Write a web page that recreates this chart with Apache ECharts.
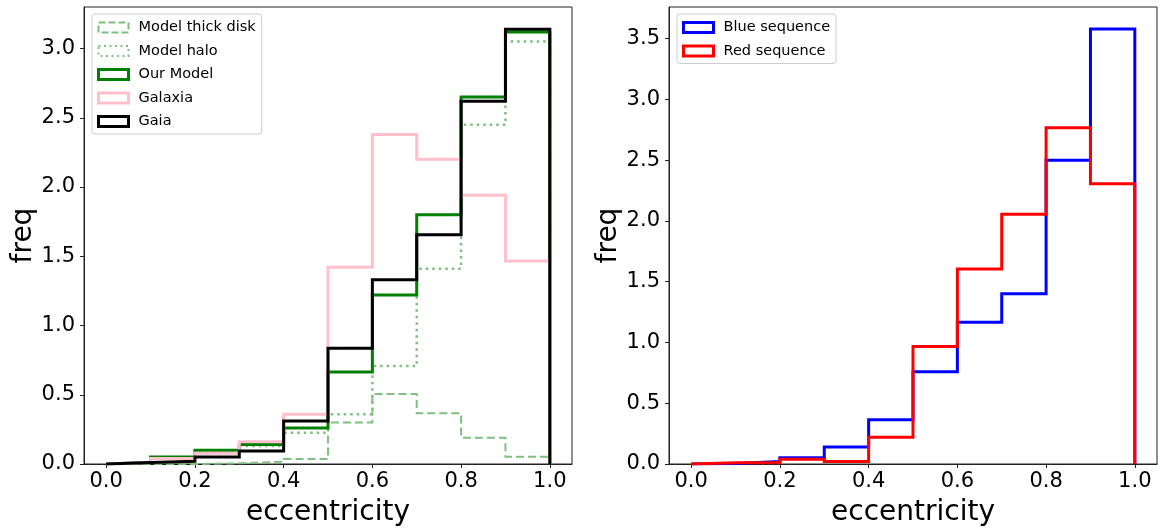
<!DOCTYPE html>
<html><head><meta charset="utf-8">
<script src="https://cdn.jsdelivr.net/npm/echarts@6/dist/echarts.min.js"></script>
<style>html,body{margin:0;padding:0;background:#fff}#c{width:1161px;height:532px}</style>
</head><body><div id="c"></div>
<script>
// bin edges of the eccentricity histograms
const binEdges = [0.0, 0.1, 0.2, 0.3, 0.4, 0.5, 0.6, 0.7, 0.8, 0.9, 1.0];
// left panel (density per bin)
const modelThickDisk = [0.0, 0.0, 0.005, 0.017, 0.036, 0.30, 0.505, 0.366, 0.19, 0.053];
const modelHalo      = [0.01, 0.045, 0.09, 0.13, 0.226, 0.36, 0.707, 1.41, 2.45, 3.05];
const ourModel       = [0.01, 0.05, 0.10, 0.14, 0.26, 0.665, 1.22, 1.80, 2.65, 3.12];
const galaxia        = [0.01, 0.04, 0.077, 0.16, 0.36, 1.42, 2.38, 2.20, 1.94, 1.465];
const gaia           = [0.01, 0.02, 0.05, 0.094, 0.31, 0.835, 1.33, 1.655, 2.62, 3.14];
// right panel
const blueSequence   = [0.005, 0.02, 0.052, 0.14, 0.364, 0.758, 1.167, 1.40, 2.50, 3.58];
const redSequence    = [0.01, 0.01, 0.04, 0.02, 0.22, 0.966, 1.605, 2.054, 2.766, 2.305];
// tick labels
const xTicks = [0.0, 0.2, 0.4, 0.6, 0.8, 1.0];
const yTicksLeft = [0.0, 0.5, 1.0, 1.5, 2.0, 2.5, 3.0];
const yTicksRight = [0.0, 0.5, 1.0, 1.5, 2.0, 2.5, 3.0, 3.5];

function stepOutline(vals) {
  const pts = [[binEdges[0], 0]];
  for (let i = 0; i < vals.length; i++) {
    pts.push([binEdges[i], vals[i]]);
    pts.push([binEdges[i + 1], vals[i]]);
  }
  pts.push([binEdges[binEdges.length - 1], 0]);
  return pts;
}

const FONT = 'DejaVu Sans';
const lgreen = '#7fbf7f';

function xAxisCfg(gi) {
  return {
    type: 'value', gridIndex: gi, min: -0.05, max: 1.05,
    name: 'eccentricity', nameLocation: 'middle', nameGap: 35,
    nameTextStyle: { fontFamily: FONT, fontSize: 28, color: '#000' },
    axisLine: { show: true, onZero: false, lineStyle: { color: '#222', width: 1 } },
    axisTick: { show: true, length: 4, customValues: xTicks, lineStyle: { color: '#222' } },
    axisLabel: { customValues: xTicks, formatter: v => v.toFixed(1), fontFamily: FONT, fontSize: 21, color: '#000', margin: 7 },
    splitLine: { show: false }
  };
}
function yAxisCfg(gi, max, ticks) {
  return {
    type: 'value', gridIndex: gi, min: 0, max: max,
    name: 'freq', nameLocation: 'middle', nameGap: 44,
    nameTextStyle: { fontFamily: FONT, fontSize: 28, color: '#000' },
    axisLine: { show: true, onZero: false, lineStyle: { color: '#222', width: 1 } },
    axisTick: { show: true, length: 4, customValues: ticks, lineStyle: { color: '#222' } },
    axisLabel: { customValues: ticks, formatter: v => v.toFixed(1), fontFamily: FONT, fontSize: 21, color: '#000', margin: 9 },
    splitLine: { show: false }
  };
}
function ser(name, vals, gi, color, width, dash) {
  return {
    name: name, type: 'line', xAxisIndex: gi, yAxisIndex: gi,
    data: stepOutline(vals), symbol: 'none', animation: false,
    itemStyle: { color: color },
    lineStyle: { color: color, width: width, type: dash || 'solid', cap: 'butt', join: 'miter' },
    emphasis: { disabled: true }
  };
}
function legItem(name, color, width, dash) {
  return { name: name, icon: 'rect',
    itemStyle: { color: 'rgba(255,255,255,0)', borderColor: color, borderWidth: width, borderType: dash || 'solid' } };
}
const legendCommon = {
  orient: 'vertical', backgroundColor: 'rgba(255,255,255,0.8)', borderColor: '#cccccc', borderWidth: 1,
  borderRadius: 3, padding: [6, 6, 5, 5], itemWidth: 30, itemHeight: 10, itemGap: 8.5,
  selectedMode: false,
  textStyle: { fontFamily: FONT, fontSize: 14.5, color: '#000', lineHeight: 14, padding: [0, 0, 0, 5] }
};

const chart = echarts.init(document.getElementById('c'), null, { renderer: 'canvas' });
chart.setOption({
  animation: false,
  backgroundColor: '#fff',
  grid: [
    { left: 84, top: 7, width: 488, height: 457, show: true, borderColor: '#222', borderWidth: 1, backgroundColor: 'transparent' },
    { left: 669, top: 7, width: 488, height: 457, show: true, borderColor: '#222', borderWidth: 1, backgroundColor: 'transparent' }
  ],
  xAxis: [xAxisCfg(0), xAxisCfg(1)],
  yAxis: [yAxisCfg(0, 3.3, yTicksLeft), yAxisCfg(1, 3.76, yTicksRight)],
  legend: [
    Object.assign({}, legendCommon, { left: 92, top: 14, data: [
      legItem('Model thick disk', lgreen, 2, [7, 3]),
      legItem('Model halo', lgreen, 2, [2, 3.5]),
      legItem('Our Model', '#008000', 3),
      legItem('Galaxia', '#ffc0cb', 3),
      legItem('Gaia', '#000000', 3)
    ] }),
    Object.assign({}, legendCommon, { left: 677, top: 14, data: [
      legItem('Blue sequence', '#0000ff', 3),
      legItem('Red sequence', '#ff0000', 3)
    ] })
  ],
  series: [
    ser('Model thick disk', modelThickDisk, 0, lgreen, 2, [8, 4]),
    ser('Model halo', modelHalo, 0, lgreen, 2.5, [2.5, 4]),
    ser('Our Model', ourModel, 0, '#008000', 3),
    ser('Galaxia', galaxia, 0, '#ffc0cb', 3),
    ser('Gaia', gaia, 0, '#000000', 3),
    ser('Blue sequence', blueSequence, 1, '#0000ff', 3),
    ser('Red sequence', redSequence, 1, '#ff0000', 3)
  ]
});
</script></body></html>
